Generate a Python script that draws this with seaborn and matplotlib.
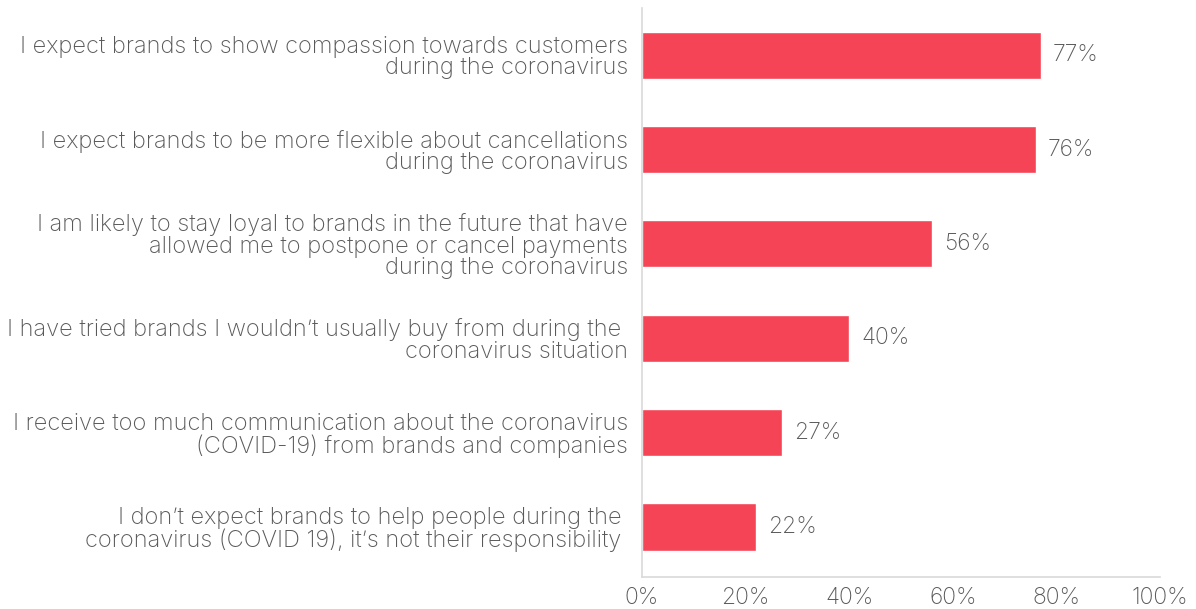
import matplotlib
matplotlib.use("Agg")
import matplotlib.pyplot as plt
import seaborn as sns
import pandas as pd

statements = [
    "I expect brands to show compassion towards customers\nduring the coronavirus",
    "I expect brands to be more flexible about cancellations\nduring the coronavirus",
    "I am likely to stay loyal to brands in the future that have\nallowed me to postpone or cancel payments\nduring the coronavirus",
    "I have tried brands I wouldn\u2019t usually buy from during the \ncoronavirus situation",
    "I receive too much communication about the coronavirus\n(COVID-19) from brands and companies",
    "I don\u2019t expect brands to help people during the \ncoronavirus (COVID 19), it\u2019s not their responsibility ",
]
shares = [77, 76, 56, 40, 27, 22]
x_ticks = [0, 20, 40, 60, 80, 100]

bar_color = "#F54455"
text_color = "#595959"
grid_color = "#D9D9D9"

sns.set_theme(style="white")
plt.rcParams["font.family"] = ["Inter", "DejaVu Sans"]
plt.rcParams["font.weight"] = "light"

df = pd.DataFrame({"statement": statements, "share": shares})

fig = plt.figure(figsize=(11.96, 6.09), dpi=100)
ax = fig.add_axes([642 / 1196, 1 - 577 / 609, (1160 - 642) / 1196, (577 - 8) / 609])

sns.barplot(data=df, x="share", y="statement", color=bar_color, saturation=1,
            width=0.5, ax=ax, orient="h")

for i, v in enumerate(shares):
    ax.text(v + 2.3, i, f"{v}%", va="center", ha="left", fontsize=16.5, color=text_color)

ax.set_xlim(0, 100)
ax.set_ylim(5.53, -0.5)
ax.set_xticks(x_ticks)
ax.set_xticklabels([f"{t}%" for t in x_ticks])
ax.set_xlabel("")
ax.set_ylabel("")
ax.tick_params(axis="x", length=0, labelsize=16.5, colors=text_color, pad=7)
ax.tick_params(axis="y", length=0, labelsize=17, colors=text_color, pad=10)
for lbl in ax.get_yticklabels():
    lbl.set_linespacing(0.98)

for side in ["top", "right"]:
    ax.spines[side].set_visible(False)
for side in ["left", "bottom"]:
    ax.spines[side].set_color(grid_color)
    ax.spines[side].set_linewidth(1.2)

fig.savefig("out.png", dpi=100)
